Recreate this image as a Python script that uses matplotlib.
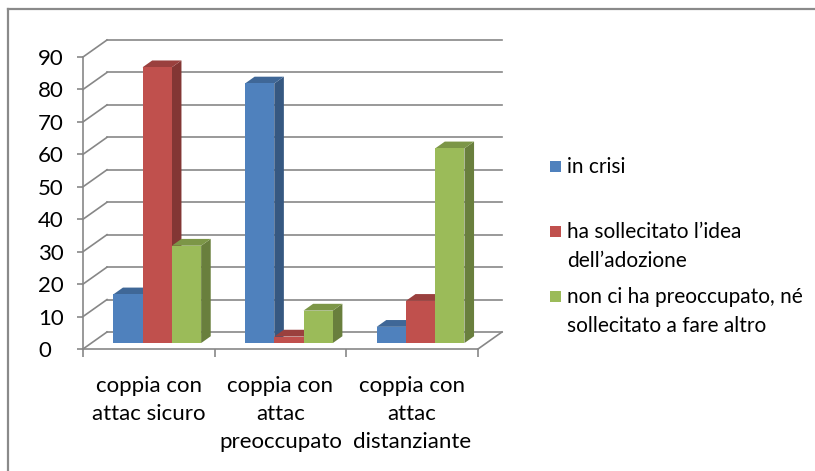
import matplotlib

matplotlib.use("Agg")
import matplotlib.pyplot as plt
from matplotlib.lines import Line2D
from matplotlib.patches import Polygon, Rectangle
from matplotlib.colors import to_rgb

W, H = 815, 471

categories = [
    "coppia con\nattac sicuro",
    "coppia con\nattac\npreoccupato",
    "coppia con\nattac\ndistanziante",
]
series_names = [
    "in crisi",
    "ha sollecitato l\u2019idea\ndell\u2019adozione",
    "non ci ha preoccupato, n\u00e9\nsollecitato a fare altro",
]
in_crisi = [15, 80, 5]
sollecitato = [85, 2, 13]
non_preoccupato = [30, 10, 60]
y_ticks = [0, 10, 20, 30, 40, 50, 60, 70, 80, 90]

FRONT = ["#4F81BD", "#C0504D", "#9BBB59"]
GRID = "#878787"
FONT = ["Lato", "DejaVu Sans"]

# oblique depth offset (data units per full depth)
DX = 24 / 131.67
DY = 17 / 3.244
D0, D1 = 0.35, 0.75
BAR_W = 2 / 9


def shade(c, f):
    r, g, b = to_rgb(c)
    return (r * f, g * f, b * f)


def P(x, y, d):
    return (x + d * DX, y + d * DY)


def px(x, y):
    return x / W, 1 - y / H


plt.rcParams["font.family"] = FONT
fig = plt.figure(figsize=(W / 100, H / 100), dpi=100)
ax = fig.add_axes([83 / W, 1 - 349 / H, (478 - 83) / W, (349 - 57) / H])
ax.set_xlim(0, len(categories))
ax.set_ylim(0, y_ticks[-1])

# walls and gridlines
n = len(categories)
for v in y_ticks:
    ax.plot(*zip(P(0, v, 0), P(0, v, 1)), color=GRID, lw=1.2, clip_on=False, zorder=1)
    ax.plot(*zip(P(0, v, 1), P(n, v, 1)), color=GRID, lw=1.2, clip_on=False, zorder=1)
ax.plot(*zip(P(n, 0, 0), P(n, 0, 1)), color=GRID, lw=1.2, clip_on=False, zorder=1)

# bars
series = [in_crisi, sollecitato, non_preoccupato]
for ci in range(n):
    start = ci + 0.5 - 1.5 * BAR_W
    for si, vals in enumerate(series):
        h = vals[ci]
        x0 = start + si * BAR_W
        x1 = x0 + BAR_W
        front = [P(x0, 0, D0), P(x1, 0, D0), P(x1, h, D0), P(x0, h, D0)]
        top = [P(x0, h, D0), P(x1, h, D0), P(x1, h, D1), P(x0, h, D1)]
        side = [P(x1, 0, D0), P(x1, 0, D1), P(x1, h, D1), P(x1, h, D0)]
        ax.add_patch(Polygon(side, closed=True, fc=shade(FRONT[si], 0.68), ec="none", clip_on=False, zorder=3))
        ax.add_patch(Polygon(top, closed=True, fc=shade(FRONT[si], 0.8), ec="none", clip_on=False, zorder=3))
        ax.add_patch(Polygon(front, closed=True, fc=FRONT[si], ec="none", clip_on=False, zorder=3))

# axes
for s in ["top", "right"]:
    ax.spines[s].set_visible(False)
for s in ["left", "bottom"]:
    ax.spines[s].set_color(GRID)
    ax.spines[s].set_linewidth(1.2)
ax.set_yticks(y_ticks)
ax.set_yticklabels([str(v) for v in y_ticks])
ax.tick_params(axis="y", length=4.3, pad=28, color=GRID, width=1.2, labelsize=16)
for lbl in ax.get_yticklabels():
    lbl.set_horizontalalignment("left")

ax.set_xticks(range(n + 1))
ax.set_xticklabels([])
ax.set_xticks([i + 0.5 for i in range(n)], minor=True)
ax.set_xticklabels(categories, minor=True, fontsize=16, linespacing=1.5)
ax.tick_params(axis="x", which="major", length=6, color=GRID, width=1.2)
ax.tick_params(axis="x", which="minor", length=0, pad=19.5)
ax.patch.set_visible(False)

# legend
leg_y = [166, 231, 296]
for si, name in enumerate(series_names):
    cx, cy = px(550, leg_y[si] + 5.5)
    fig.add_artist(Rectangle((cx, cy), 11 / W, 11 / H, transform=fig.transFigure,
                             fc=FRONT[si], ec="none"))
    tx, ty = px(567, leg_y[si] - 9)
    fig.text(tx, ty, name, fontsize=15, va="top", ha="left", linespacing=1.55)

# outer border
fig.add_artist(Line2D([8 / W, 8 / W], [0, 1 - 9 / H], color="#8a8a8a", lw=1.6,
                      transform=fig.transFigure))
fig.add_artist(Line2D([8 / W, 1], [1 - 9 / H, 1 - 9 / H], color="#8a8a8a", lw=1.6,
                      transform=fig.transFigure))

fig.savefig("out.png", dpi=100)
